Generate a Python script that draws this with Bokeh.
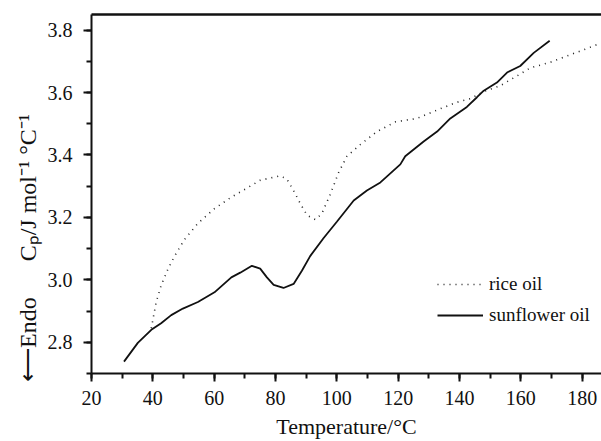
from bokeh.plotting import figure
from bokeh.models import (Range1d, Legend, LegendItem, FixedTicker, LinearAxis,
                          SingleIntervalTicker, PrintfTickFormatter)
from bokeh.embed import file_html
from bokeh.resources import INLINE

# ---- data ----
sun_t = [30.6, 35.1, 39.5, 42.7, 46.0, 49.8, 54.7, 60.1, 65.6, 68.5, 72.3, 75.0,
         77.2, 79.4, 82.6, 85.9, 88.6, 91.3, 95.7, 100.0, 105.5, 109.8, 114.2,
         120.7, 122.3, 128.3, 132.7, 137.0, 142.4, 145.7, 147.9, 152.2, 155.5,
         159.8, 164.2, 169.4]
sun_cp = [2.738, 2.798, 2.840, 2.861, 2.887, 2.908, 2.929, 2.960, 3.008, 3.023,
          3.045, 3.036, 3.008, 2.984, 2.974, 2.987, 3.029, 3.076, 3.134, 3.186,
          3.254, 3.286, 3.312, 3.370, 3.396, 3.443, 3.475, 3.517, 3.554, 3.585,
          3.606, 3.632, 3.664, 3.685, 3.727, 3.766]

rice_t = [39.5, 41.1, 42.7, 44.9, 47.1, 50.3, 54.7, 60.1, 65.6, 72.1, 75.0, 81.5,
          83.7, 85.9, 88.1, 90.3, 93.0, 95.1, 97.9, 100.6, 103.3, 107.6, 113.1,
          119.1, 126.1, 133.7, 139.2, 143.5, 147.9, 153.3, 158.7, 163.1, 169.6,
          176.1, 180.5, 186.0]
rice_cp = [2.845, 2.929, 2.982, 3.034, 3.076, 3.129, 3.181, 3.228, 3.265, 3.302,
           3.319, 3.333, 3.323, 3.286, 3.244, 3.207, 3.193, 3.212, 3.275, 3.344,
           3.396, 3.433, 3.475, 3.506, 3.517, 3.548, 3.569, 3.580, 3.603, 3.622,
           3.653, 3.679, 3.697, 3.721, 3.737, 3.758]

series_labels = ["rice oil", "sunflower oil"]
x_title = "Temperature/°C"
y_title_left = "⟵Endo"
y_title_right = "Cₚ/J mol⁻¹ °C⁻¹"

FONT = "Liberation Serif"
INK = "#111111"

p = figure(width=601, height=441, output_backend="svg", toolbar_location=None,
           x_range=Range1d(20, 186.3), y_range=Range1d(2.70, 3.85),
           min_border_left=91, min_border_right=0, min_border_top=14,
           min_border_bottom=62)
p.outline_line_color = None
p.grid.visible = False
p.background_fill_color = "white"

for ax in (p.xaxis[0], p.yaxis[0]):
    ax.axis_line_width = 2
    ax.axis_line_color = INK
    ax.major_tick_line_width = 2
    ax.minor_tick_line_width = 2
    ax.major_tick_line_color = INK
    ax.minor_tick_line_color = INK
    ax.major_tick_in = 0
    ax.minor_tick_in = 0
    ax.major_tick_out = 8
    ax.minor_tick_out = 5
    ax.major_label_text_font = FONT
    ax.major_label_text_font_size = "20px"
    ax.major_label_text_color = INK
    ax.axis_label_text_font = FONT
    ax.axis_label_text_font_style = "normal"
    ax.axis_label_text_color = INK

p.xaxis.ticker = SingleIntervalTicker(interval=20, num_minor_ticks=2)
p.yaxis.ticker = SingleIntervalTicker(interval=0.2, num_minor_ticks=2)
p.yaxis.formatter = PrintfTickFormatter(format="%.1f")
p.xaxis.major_label_standoff = 9
p.yaxis.major_label_standoff = 11
p.xaxis.axis_label = x_title
p.xaxis.axis_label_text_font_size = "22px"
p.xaxis.axis_label_standoff = 6

NB = "\u00a0"
p.yaxis.axis_label = y_title_left + NB * 6 + y_title_right + NB * 18
p.yaxis.axis_label_text_font_size = "24px"
p.yaxis.axis_label_standoff = 4

# top border line (axis with no ticks / labels)
top = LinearAxis(ticker=FixedTicker(ticks=[]), axis_line_width=2.5,
                 axis_line_color=INK, major_tick_out=0, minor_tick_out=0,
                 major_tick_in=0, minor_tick_in=0,
                 major_label_text_font_size="0px")
p.add_layout(top, "above")

r_rice = p.line(rice_t, rice_cp, line_color="#222222", line_width=1.6,
                line_dash="1 5")
r_sun = p.line(sun_t, sun_cp, line_color=INK, line_width=1.8)

legend = Legend(items=[LegendItem(label=series_labels[0], renderers=[r_rice]),
                       LegendItem(label=series_labels[1], renderers=[r_sun])],
                location=(346, 47), glyph_width=46, glyph_height=20,
                label_height=20, spacing=9, padding=0, margin=0,
                label_standoff=6, border_line_color=None,
                background_fill_alpha=0, label_text_font=FONT,
                label_text_font_size="19px", label_text_color=INK)
p.add_layout(legend)

open("out.html", "w").write(file_html(p, INLINE))
